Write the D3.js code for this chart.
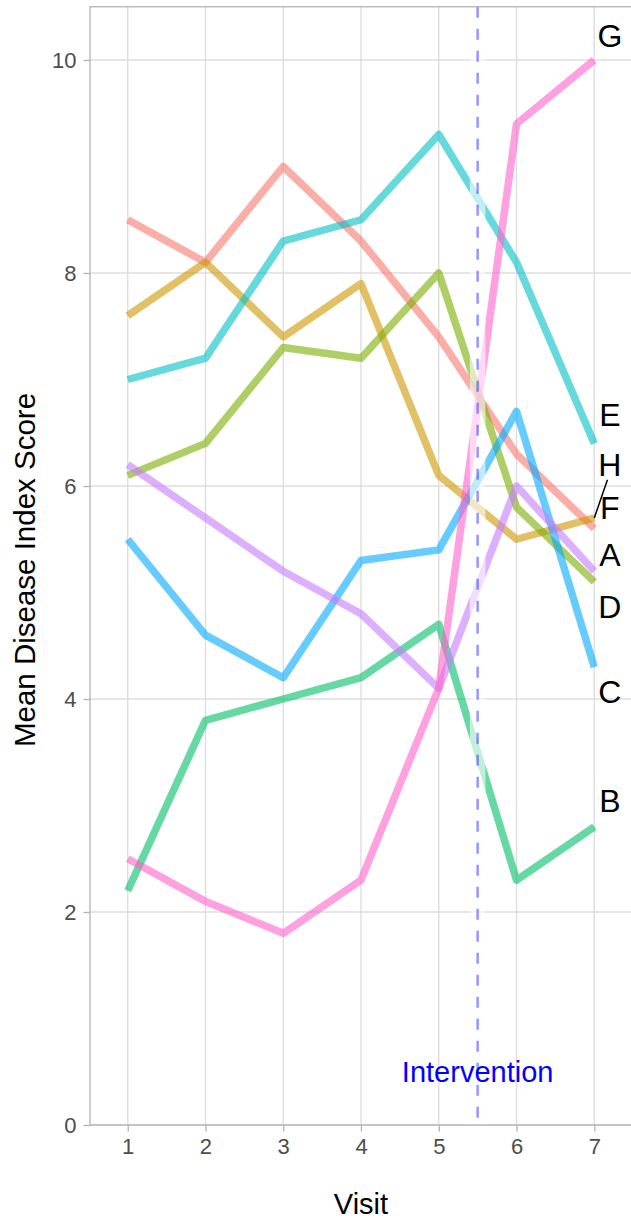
<!DOCTYPE html>
<html>
<head>
<meta charset="utf-8">
<script src="https://cdn.jsdelivr.net/npm/d3@7"></script>
<style>
  html, body { margin: 0; padding: 0; background: #fff; }
  svg { display: block; font-family: "Liberation Sans", Arial, Helvetica, sans-serif; }
</style>
</head>
<body>
<svg id="chart" width="631" height="1219"></svg>
<script>
// ---- data ----
const visits = [1, 2, 3, 4, 5, 6, 7];
const seriesNames = ["F", "H", "D", "B", "E", "C", "A", "G"];
const seriesColors = ["#F8766D", "#CD9600", "#7CAE00", "#00BE67", "#00BFC4", "#00A9FF", "#C77CFF", "#FF61CC"];
const valuesF = [8.5, 8.1, 9.0, 8.3, 7.4, 6.3, 5.6];
const valuesH = [7.6, 8.1, 7.4, 7.9, 6.1, 5.5, 5.7];
const valuesD = [6.1, 6.4, 7.3, 7.2, 8.0, 5.8, 5.1];
const valuesB = [2.2, 3.8, 4.0, 4.2, 4.7, 2.3, 2.8];
const valuesE = [7.0, 7.2, 8.3, 8.5, 9.3, 8.1, 6.4];
const valuesC = [5.5, 4.6, 4.2, 5.3, 5.4, 6.7, 4.3];
const valuesA = [6.2, 5.7, 5.2, 4.8, 4.1, 6.0, 5.2];
const valuesG = [2.5, 2.1, 1.8, 2.3, 4.1, 9.4, 10.0];
const seriesValues = [valuesF, valuesH, valuesD, valuesB, valuesE, valuesC, valuesA, valuesG];
// repelled label positions (data units) at the end of each line
const labelX = 7.2;
const labelY = [5.79, 6.20, 4.86, 3.04, 6.67, 4.07, 5.35, 10.23];
const labelSegment = [false, true, false, false, false, false, false, false];
const xTicks = [1, 2, 3, 4, 5, 6, 7];
const yTicks = [0, 2, 4, 6, 8, 10];
const interventionX = 5.5;
const bandRange = [5.4, 5.6];
const interventionLabel = "Intervention";
const interventionLabelY = 0.5;
const xTitle = "Visit";
const yTitle = "Mean Disease Index Score";

// ---- layout ----
const svg = d3.select("#chart");
const panel = { left: 90, right: 632, top: 6.75, bottom: 1125 };
const x = d3.scaleLinear().domain([0.515, 7.485]).range([panel.left, panel.right]);
const y = d3.scaleLinear().domain([0, 10.5]).range([panel.bottom, panel.top]);

const gridColor = "#DEDEDE";
const borderColor = "#B3B3B3";
const tickTextColor = "#4D4D4D";

// grid
const grid = svg.append("g");
grid.selectAll("line.gx").data(xTicks).join("line")
  .attr("x1", d => x(d)).attr("x2", d => x(d))
  .attr("y1", panel.top).attr("y2", panel.bottom)
  .attr("stroke", gridColor).attr("stroke-width", 1.4);
grid.selectAll("line.gy").data(yTicks).join("line")
  .attr("x1", panel.left).attr("x2", panel.right)
  .attr("y1", d => y(d)).attr("y2", d => y(d))
  .attr("stroke", gridColor).attr("stroke-width", 1.4);

// lines
const line = d3.line().x((d, i) => x(visits[i])).y(d => y(d));
svg.append("g").selectAll("path").data(seriesValues).join("path")
  .attr("d", d => line(d))
  .attr("fill", "none")
  .attr("stroke", (d, i) => seriesColors[i])
  .attr("stroke-opacity", 0.6)
  .attr("stroke-width", 7.5)
  .attr("stroke-linejoin", "round")
  .attr("stroke-linecap", "butt");

// translucent band around intervention
svg.append("rect")
  .attr("x", x(bandRange[0])).attr("width", x(bandRange[1]) - x(bandRange[0]))
  .attr("y", panel.top).attr("height", panel.bottom - panel.top)
  .attr("fill", "#FFFFFF").attr("fill-opacity", 0.6);

// intervention dashed line
svg.append("line")
  .attr("x1", x(interventionX)).attr("x2", x(interventionX))
  .attr("y1", panel.top).attr("y2", panel.bottom)
  .attr("stroke", "#0000FF").attr("stroke-opacity", 0.4)
  .attr("stroke-width", 2.6)
  .attr("stroke-dasharray", "11,11");

svg.append("text")
  .attr("x", x(interventionX)).attr("y", y(interventionLabelY))
  .attr("text-anchor", "middle").attr("dominant-baseline", "central")
  .attr("fill", "#0000FF").attr("font-size", 29)
  .text(interventionLabel);

// end labels
const labG = svg.append("g");
seriesNames.forEach((name, i) => {
  const lx = x(labelX), ly = y(labelY[i]);
  if (labelSegment[i]) {
    const px = x(visits[visits.length - 1]), py = y(seriesValues[i][visits.length - 1]);
    const boxHalf = 15;
    const t = (py - (ly + boxHalf)) / (py - ly);
    labG.append("line")
      .attr("x1", px).attr("y1", py)
      .attr("x2", px + t * (lx - px) + 2).attr("y2", ly + boxHalf)
      .attr("stroke", "#000").attr("stroke-width", 1.5);
  }
  labG.append("text")
    .attr("x", lx).attr("y", ly)
    .attr("text-anchor", "middle").attr("dominant-baseline", "central")
    .attr("fill", "#000").attr("font-size", 32)
    .text(name);
});

// panel border
svg.append("rect")
  .attr("x", panel.left).attr("y", panel.top)
  .attr("width", panel.right - panel.left).attr("height", panel.bottom - panel.top)
  .attr("fill", "none").attr("stroke", borderColor).attr("stroke-width", 1.3);

// axes
const xAxis = d3.axisBottom(x).tickValues(xTicks).tickSize(6.5).tickPadding(7).tickFormat(d3.format("d"));
const gx = svg.append("g").attr("transform", `translate(0,${panel.bottom})`).call(xAxis);
gx.select(".domain").remove();
gx.selectAll(".tick line").attr("stroke", borderColor).attr("stroke-width", 1.3);
gx.selectAll(".tick text").attr("fill", tickTextColor).attr("font-size", 22)
  .attr("font-family", "Liberation Sans, Arial, sans-serif");

const yAxis = d3.axisLeft(y).tickValues(yTicks).tickSize(6.5).tickPadding(7).tickFormat(d3.format("d"));
const gy = svg.append("g").attr("transform", `translate(${panel.left},0)`).call(yAxis);
gy.select(".domain").remove();
gy.selectAll(".tick line").attr("stroke", borderColor).attr("stroke-width", 1.3);
gy.selectAll(".tick text").attr("fill", tickTextColor).attr("font-size", 22)
  .attr("font-family", "Liberation Sans, Arial, sans-serif");

// titles
svg.append("text")
  .attr("x", (panel.left + panel.right) / 2).attr("y", 1214)
  .attr("text-anchor", "middle").attr("fill", "#000").attr("font-size", 29)
  .text(xTitle);
svg.append("text")
  .attr("transform", `translate(35,570) rotate(-90)`)
  .attr("text-anchor", "middle").attr("fill", "#000").attr("font-size", 29.5)
  .text(yTitle);
</script>
</body>
</html>
